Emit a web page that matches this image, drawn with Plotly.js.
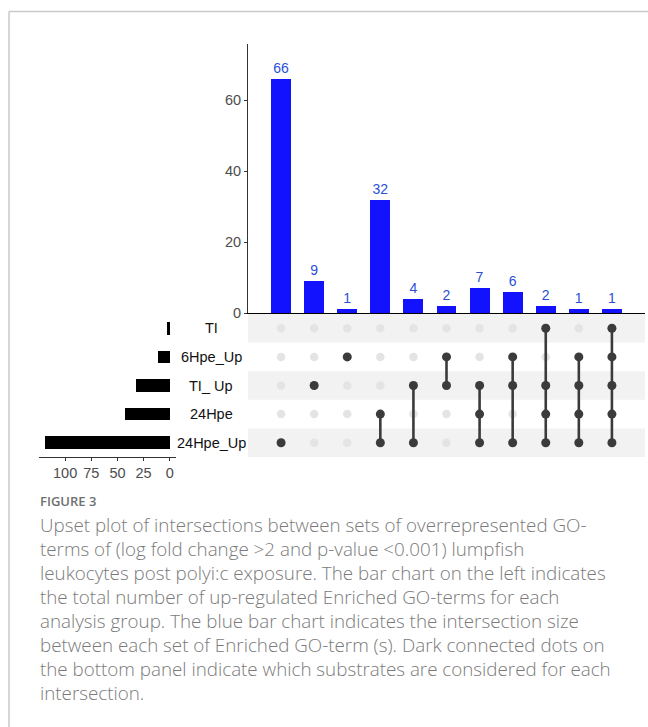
<!DOCTYPE html>
<html>
<head>
<meta charset="utf-8">
<script src="https://cdn.plot.ly/plotly-3.0.1.min.js"></script>
<style>
  html, body { margin: 0; padding: 0; background: #ffffff; }
  #chart { width: 648px; height: 727px; }
</style>
</head>
<body>
<div id="chart"></div>
<script>
// Sets, listed from the bottom row of the matrix to the top row
const setNames = ['24Hpe_Up', '24Hpe', 'TI_ Up', '6Hpe_Up', 'TI'];
const setSizes = [119, 43, 32, 11, 3];

// Intersections, in plotted order (left to right)
const intersectionSizes = [66, 9, 1, 32, 4, 2, 7, 6, 2, 1, 1];
const intersectionSets = [
  ['24Hpe_Up'],
  ['TI_ Up'],
  ['6Hpe_Up'],
  ['24Hpe', '24Hpe_Up'],
  ['TI_ Up', '24Hpe_Up'],
  ['6Hpe_Up', 'TI_ Up'],
  ['TI_ Up', '24Hpe', '24Hpe_Up'],
  ['6Hpe_Up', 'TI_ Up', '24Hpe_Up'],
  ['TI', 'TI_ Up', '24Hpe', '24Hpe_Up'],
  ['6Hpe_Up', 'TI_ Up', '24Hpe', '24Hpe_Up'],
  ['TI', '6Hpe_Up', 'TI_ Up', '24Hpe', '24Hpe_Up']
];

const sizeTicks = [0, 20, 40, 60];
const setTicks = [0, 25, 50, 75, 100];

const figureLabel = 'FIGURE 3';
const captionLines = [
  'Upset plot of intersections between sets of overrepresented GO-',
  'terms of (log fold change >2 and p-value <0.001) lumpfish',
  'leukocytes post polyi:c exposure. The bar chart on the left indicates',
  'the total number of up-regulated Enriched GO-terms for each',
  'analysis group. The blue bar chart indicates the intersection size',
  'between each set of Enriched GO-term (s). Dark connected dots on',
  'the bottom panel indicate which substrates are considered for each',
  'intersection.'
];

// ---- page geometry (pixels -> paper fractions) ----
const W = 648, H = 727;
const X = p => p / W;
const Y = p => 1 - p / H;

const colIdx = intersectionSizes.map((_, i) => i);
const rowIdx = setNames.map((_, i) => i);
const DARK = '#3b3b3b';

const traces = [];

// Intersection size bars
traces.push({
  type: 'bar', x: colIdx, y: intersectionSizes, xaxis: 'x', yaxis: 'y',
  width: 0.6,
  marker: { color: '#1212ff', line: { width: 0 } },
  text: intersectionSizes.map(String),
  textposition: 'outside',
  constraintext: 'none',
  cliponaxis: false,
  textfont: { family: 'Liberation Sans, Arial, sans-serif', size: 14, color: '#2a4fd6' },
  hoverinfo: 'skip'
});

// Light background dots for every cell of the matrix
const gx = [], gy = [];
colIdx.forEach(c => rowIdx.forEach(r => { gx.push(c); gy.push(r); }));
traces.push({
  type: 'scatter', mode: 'markers', x: gx, y: gy, xaxis: 'x2', yaxis: 'y2',
  marker: { size: 8.5, color: '#e4e4e4' }, hoverinfo: 'skip'
});

// Connecting lines per intersection
intersectionSets.forEach((sets, c) => {
  const rows = sets.map(s => setNames.indexOf(s));
  const lo = Math.min(...rows), hi = Math.max(...rows);
  if (hi > lo) {
    traces.push({
      type: 'scatter', mode: 'lines', x: [c, c], y: [lo, hi], xaxis: 'x2', yaxis: 'y2',
      line: { color: DARK, width: 2.6 }, hoverinfo: 'skip'
    });
  }
});

// Member dots
const mx = [], my = [];
intersectionSets.forEach((sets, c) => sets.forEach(s => { mx.push(c); my.push(setNames.indexOf(s)); }));
traces.push({
  type: 'scatter', mode: 'markers', x: mx, y: my, xaxis: 'x2', yaxis: 'y2',
  marker: { size: 9, color: DARK }, hoverinfo: 'skip'
});

// Set size bars (left)
traces.push({
  type: 'bar', orientation: 'h', x: setSizes, y: rowIdx, xaxis: 'x3', yaxis: 'y3',
  width: 0.44, marker: { color: '#000000', line: { width: 0 } }, hoverinfo: 'skip'
});

// ---- shapes: matrix stripes and page frame ----
const shapes = [];
rowIdx.forEach(r => {
  if (r % 2 === 0) {
    shapes.push({
      type: 'rect', xref: 'x2 domain', yref: 'y2', x0: 0, x1: 1, y0: r - 0.5, y1: r + 0.5,
      fillcolor: '#f2f2f2', line: { width: 0 }, layer: 'below'
    });
  }
});
shapes.push({ type: 'line', xref: 'paper', yref: 'paper', x0: X(9), x1: 1, y0: Y(11.5), y1: Y(11.5),
  line: { color: '#c9c9c9', width: 1.5 } });
shapes.push({ type: 'line', xref: 'paper', yref: 'paper', x0: X(9), x1: X(9), y0: Y(11.5), y1: 0,
  line: { color: '#c9c9c9', width: 1.5 } });

// ---- annotations: set names and caption ----
const annotations = [];
setNames.forEach((name, r) => {
  annotations.push({
    xref: 'paper', yref: 'y3', x: X(211), y: r, text: name, showarrow: false,
    xanchor: 'center', yanchor: 'middle',
    font: { family: 'Liberation Sans, Arial, sans-serif', size: 14.5, color: '#111111' }
  });
});
annotations.push({
  xref: 'paper', yref: 'paper', x: X(38), y: Y(501), text: figureLabel, showarrow: false,
  xanchor: 'left', yanchor: 'middle',
  font: { family: 'Open Sans, sans-serif', size: 13, color: '#6f6f6f', weight: 600 }
});
captionLines.forEach((line, i) => {
  annotations.push({
    xref: 'paper', yref: 'paper', x: X(38), y: Y(525 + 24 * i), text: line, showarrow: false,
    xanchor: 'left', yanchor: 'middle',
    font: { family: 'Open Sans, sans-serif', size: 18.8, color: '#7a7a7a', weight: 300 }
  });
});

const tickFont = { family: 'Liberation Sans, Arial, sans-serif', size: 14.5, color: '#4d4d4d' };
const topMax = Math.max(...intersectionSizes) * 1.15;
const setMax = Math.max(...setSizes);

const layout = {
  width: W, height: H,
  margin: { l: 0, r: 0, t: 0, b: 0 },
  paper_bgcolor: '#ffffff', plot_bgcolor: 'rgba(0,0,0,0)',
  showlegend: false,
  bargap: 0,
  xaxis: {
    domain: [X(248), X(645)], range: [-1, 11], anchor: 'y',
    showgrid: false, zeroline: false, showticklabels: false, ticks: '',
    showline: true, linecolor: '#000000', linewidth: 1.3
  },
  yaxis: {
    domain: [Y(313), Y(44)], range: [0, topMax], anchor: 'x',
    showgrid: false, zeroline: false,
    tickvals: sizeTicks, ticktext: sizeTicks.map(String),
    ticks: 'outside', ticklen: 3, tickcolor: '#333333', tickwidth: 1,
    tickfont: tickFont,
    showline: true, linecolor: '#333333', linewidth: 1
  },
  xaxis2: {
    domain: [X(248), X(645)], range: [-1, 11], anchor: 'y2',
    visible: false
  },
  yaxis2: {
    domain: [Y(457), Y(314)], range: [-0.5, 4.5], anchor: 'x2',
    visible: false
  },
  xaxis3: {
    domain: [X(39), X(176)], range: [setMax * 1.05, -setMax * 0.05], anchor: 'y3',
    showgrid: false, zeroline: false,
    tickvals: setTicks, ticktext: setTicks.map(String),
    ticks: 'outside', ticklen: 3, tickcolor: '#333333', tickwidth: 1,
    tickfont: tickFont,
    showline: true, linecolor: '#333333', linewidth: 1
  },
  yaxis3: {
    domain: [Y(457), Y(314)], range: [-0.5, 4.5], anchor: 'x3',
    visible: false
  },
  shapes: shapes,
  annotations: annotations
};

Plotly.newPlot('chart', traces, layout, { displayModeBar: false, staticPlot: true });
</script>
</body>
</html>
